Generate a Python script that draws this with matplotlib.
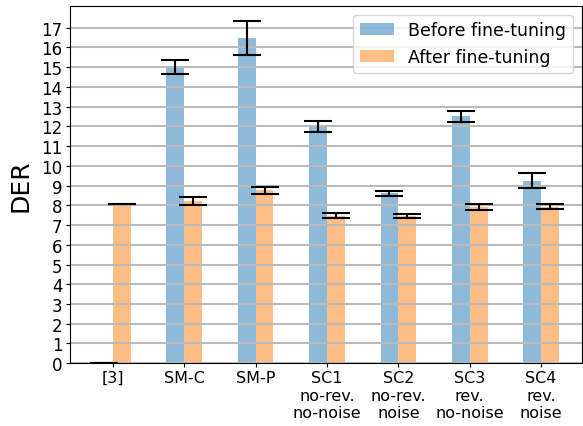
import matplotlib
matplotlib.use('Agg')
import matplotlib.pyplot as plt
import numpy as np

labels = ['[3]', 'SM-C', 'SM-P', 'SC1\nno-rev.\nno-noise', 'SC2\nno-rev.\nnoise',
          'SC3\nrev.\nno-noise', 'SC4\nrev.\nnoise']
before = [0.0, 15.0, 16.45, 12.0, 8.6, 12.5, 9.25]
before_err = [0.0, 0.35, 0.86, 0.28, 0.13, 0.28, 0.36]
after = [8.05, 8.2, 8.75, 7.48, 7.45, 7.9, 7.93]
after_err = [0.0, 0.2, 0.18, 0.15, 0.12, 0.14, 0.12]

x = np.arange(len(labels))
w = 0.25

fig = plt.figure(figsize=(5.83, 4.27), dpi=100)
ax = fig.add_axes([0.12, 0.147, 0.878, 0.837])

ax.bar(x - w/2, before, w, yerr=before_err, color='tab:blue', alpha=0.5,
       capsize=10, error_kw={'elinewidth': 1.5, 'capthick': 1.5, 'ecolor': 'black'},
       label='Before fine-tuning')
ax.bar(x + w/2, after, w, yerr=after_err, color='tab:orange', alpha=0.5,
       capsize=10, error_kw={'elinewidth': 1.5, 'capthick': 1.5, 'ecolor': 'black'},
       label='After fine-tuning')

ax.set_xticks(x)
ax.set_xticklabels(labels, fontsize=11.5)
ax.set_yticks(np.arange(0, 18))
ax.tick_params(axis='y', labelsize=12, length=3, pad=2.5)
ax.tick_params(axis='x', length=3, pad=2)
ax.set_xlim(-0.6, 6.57)
ax.set_ylim(0, 18.1)
ax.yaxis.grid(True, color='#bbbbbb', linewidth=1.5)
ax.set_ylabel('DER', fontsize=18, labelpad=6)
ax.legend(loc='upper right', fontsize=12.5)

plt.savefig('out.png', dpi=100)
